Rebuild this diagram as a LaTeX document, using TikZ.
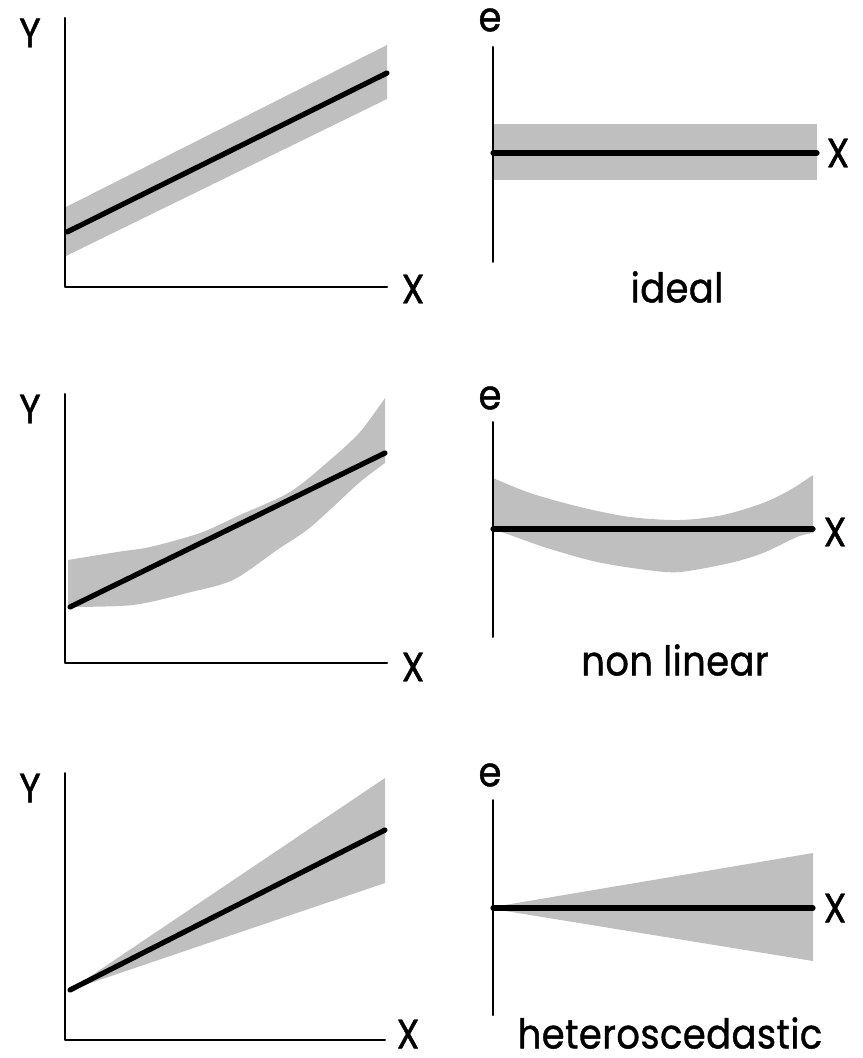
\documentclass[tikz,border=0pt]{standalone}
\usepackage{fontspec}
\setmainfont{Poppins}
\newfontfamily\lblfont[LetterSpace=1, FakeStretch=0.9, FakeBold=1]{Poppins}
\newcommand{\lblsize}{\lblfont\fontsize{20.5}{23}\selectfont}

\begin{document}
\begin{tikzpicture}[x=0.5pt, y=-0.5pt, line cap=round, line join=round]
\tikzstyle{axis}=[line width=1pt]
\tikzstyle{fitline}=[line width=2.6pt]
\tikzstyle{band}=[fill=black!25, draw=none]
\tikzstyle{lab}=[font=\lblsize, inner sep=0pt]
\useasboundingbox (0,0) rectangle (862,1058);
% row 1: ideal
\coordinate (yTopA) at (65,18);
\coordinate (origA) at (65,287);
\coordinate (xEndA) at (387,287);
\fill[band] (66,207) -- (387,45) -- (387,99) -- (66,256) -- cycle;
\draw[axis] (yTopA) -- (origA) -- (xEndA);
\draw[fitline] (67,232) -- (387,73);
\node[lab] (yLabA) at (30,33) {Y};
\node[lab] (xLabA) at (413,289) {X};
\coordinate (eTopB) at (493,47);
\coordinate (eBotB) at (493,262);
\fill[band] (493,124) rectangle (817,180);
\draw[axis] (eTopB) -- (eBotB);
\draw[fitline] (493,153) -- (817,153);
\node[lab] (eLabB) at (490,20) {e};
\node[lab] (xLabB) at (838,153) {X};
\node[lab] (capB) at (677,287) {ideal};
% row 2: non linear
\coordinate (yTopC) at (65,394);
\coordinate (origC) at (65,663);
\coordinate (xEndC) at (387,663);
\fill[band] plot[smooth] coordinates {(68,560) (117,552) (150,547) (200,533) (240,515) (290,492) (330,460) (360,432) (385,398)}
  -- plot[smooth] coordinates {(385,463) (360,482) (333,507) (307,530) (277,550) (233,580) (187,593) (133,605) (68,607)} -- cycle;
\draw[axis] (yTopC) -- (origC) -- (xEndC);
\draw[fitline] (70,607) -- (385,453);
\node[lab] (yLabC) at (30,409) {Y};
\node[lab] (xLabC) at (413,667) {X};
\coordinate (eTopD) at (493,422);
\coordinate (eBotD) at (493,637);
\fill[band] plot[smooth] coordinates {(493,478) (530,493) (580,507) (630,517) (680,520) (723,515) (763,503) (790,490) (813,475)}
  -- plot[smooth] coordinates {(813,533) (797,537) (763,553) (730,563) (680,572) (647,570) (597,562) (547,548) (510,535) (493,529)} -- cycle;
\draw[axis] (eTopD) -- (eBotD);
\draw[fitline] (493,529) -- (813,529);
\node[lab] (eLabD) at (490,398) {e};
\node[lab] (xLabD) at (835,532) {X};
\node[lab] (capD) at (675,660) {non linear};
% row 3: heteroscedastic
\coordinate (yTopE) at (65,773);
\coordinate (origE) at (65,1040);
\coordinate (xEndE) at (385,1040);
\fill[band] (70,990) -- (385,778) -- (385,883) -- cycle;
\draw[axis] (yTopE) -- (origE) -- (xEndE);
\draw[fitline] (70,990) -- (385,830);
\node[lab] (yLabE) at (30,788) {Y};
\node[lab] (xLabE) at (408,1034) {X};
\coordinate (eTopF) at (493,800);
\coordinate (eBotF) at (493,1015);
\fill[band] (493,907) -- (813,853) -- (813,961) -- (493,909) -- cycle;
\draw[axis] (eTopF) -- (eBotF);
\draw[fitline] (493,908) -- (813,908);
\node[lab] (eLabF) at (490,775) {e};
\node[lab] (xLabF) at (835,908) {X};
\node[lab] (capF) at (670,1033) {heteroscedastic};
\end{tikzpicture}
\end{document}
